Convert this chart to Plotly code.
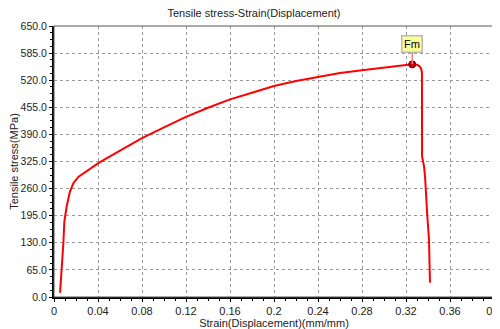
import plotly.graph_objects as go

strain = [0.0055, 0.0070, 0.0085, 0.0094, 0.0115, 0.0145, 0.0176, 0.0221, 0.0297, 0.0403,
          0.060, 0.080, 0.100, 0.120, 0.140, 0.160, 0.180, 0.200, 0.220, 0.240,
          0.260, 0.280, 0.300, 0.320, 0.3257, 0.3300, 0.3321, 0.3337, 0.3345, 0.3346,
          0.3364, 0.3373, 0.3382, 0.3394, 0.3409, 0.3418]
stress = [10, 65, 129, 181, 217, 253, 273, 288, 301, 321,
          351, 381, 407, 432, 454, 474, 490, 506, 518, 528,
          537, 544, 550, 556, 558, 557, 554, 548, 538, 337,
          313, 289, 241, 193, 137, 34]

fm_strain = [0.3257]
fm_stress = [558]
fm_label = "Fm"

x_ticks = [0, 0.04, 0.08, 0.12, 0.16, 0.2, 0.24, 0.28, 0.32, 0.36, 0.4]
x_tick_text = ["0", "0.04", "0.08", "0.12", "0.16", "0.2", "0.24", "0.28", "0.32", "0.36", "0.4"]
y_ticks = [0, 65, 130, 195, 260, 325, 390, 455, 520, 585, 650]
y_tick_text = ["0.0", "65.0", "130.0", "195.0", "260.0", "325.0", "390.0", "455.0", "520.0", "585.0", "650.0"]

FONT = "Liberation Sans"
TXT = "#222"

# the page body has an 8px default margin, so the figure is 8px smaller and shifted
W, H = 492, 321

fig = go.Figure()
fig.add_trace(go.Scatter(x=strain, y=stress, mode="lines",
                         line=dict(color="#ff0000", width=2), hoverinfo="skip"))
fig.add_trace(go.Scatter(x=fm_strain, y=fm_stress, mode="markers",
                         marker=dict(color="#cc0000", size=7, line=dict(color="#550000", width=1)),
                         hoverinfo="skip"))

fig.add_annotation(x=fm_strain[0], y=fm_stress[0], text=fm_label, showarrow=True,
                   ax=0, ay=-20, arrowhead=0, arrowwidth=1.5, arrowcolor="#f08080",
                   bgcolor="#ffff99", bordercolor="#b8b8b8", borderwidth=1.5, borderpad=1.5,
                   font=dict(family=FONT, size=11, color="#000"))

fig.add_shape(type="rect", xref="paper", yref="paper", x0=0, y0=0, x1=1, y1=1,
              line=dict(color="#555555", width=1), layer="above")

fig.update_layout(
    width=W, height=H,
    margin=dict(l=46, r=6, t=18, b=32),
    paper_bgcolor="white", plot_bgcolor="white",
    showlegend=False,
    title=dict(text="Tensile stress-Strain(Displacement)", x=0.5, xanchor="center",
               y=1 - 5 / H, yanchor="middle",
               font=dict(family=FONT, size=11, color=TXT)),
    font=dict(family=FONT, size=11, color=TXT),
)
fig.update_xaxes(range=[0, 0.4], tickvals=x_ticks, ticktext=x_tick_text, automargin=False,
                 ticklabeloverflow="allow",
                 showgrid=True, gridcolor="#999999", griddash="3px,3px", gridwidth=1,
                 showline=True, linecolor="#000", linewidth=2,
                 ticks="outside", ticklen=3, tickcolor="#000",
                 minor=dict(dtick=0.01, ticks="outside", ticklen=2, tickcolor="#000", showgrid=False),
                 zeroline=False,
                 title=dict(text="Strain(Displacement)(mm/mm)", standoff=1,
                            font=dict(family=FONT, size=11, color=TXT)),
                 tickfont=dict(family=FONT, size=11, color=TXT))
fig.update_yaxes(range=[0, 650], tickvals=y_ticks, ticktext=y_tick_text, automargin=False,
                 showgrid=True, gridcolor="#999999", griddash="3px,3px", gridwidth=1,
                 showline=True, linecolor="#000", linewidth=2,
                 ticks="outside", ticklen=3, tickcolor="#000",
                 minor=dict(dtick=16.25, ticks="outside", ticklen=2, tickcolor="#000", showgrid=False),
                 zeroline=False,
                 title=dict(text="Tensile stress(MPa)", standoff=1,
                            font=dict(family=FONT, size=11, color=TXT)),
                 tickfont=dict(family=FONT, size=10.5, color=TXT))

fig.write_html("out.html")
